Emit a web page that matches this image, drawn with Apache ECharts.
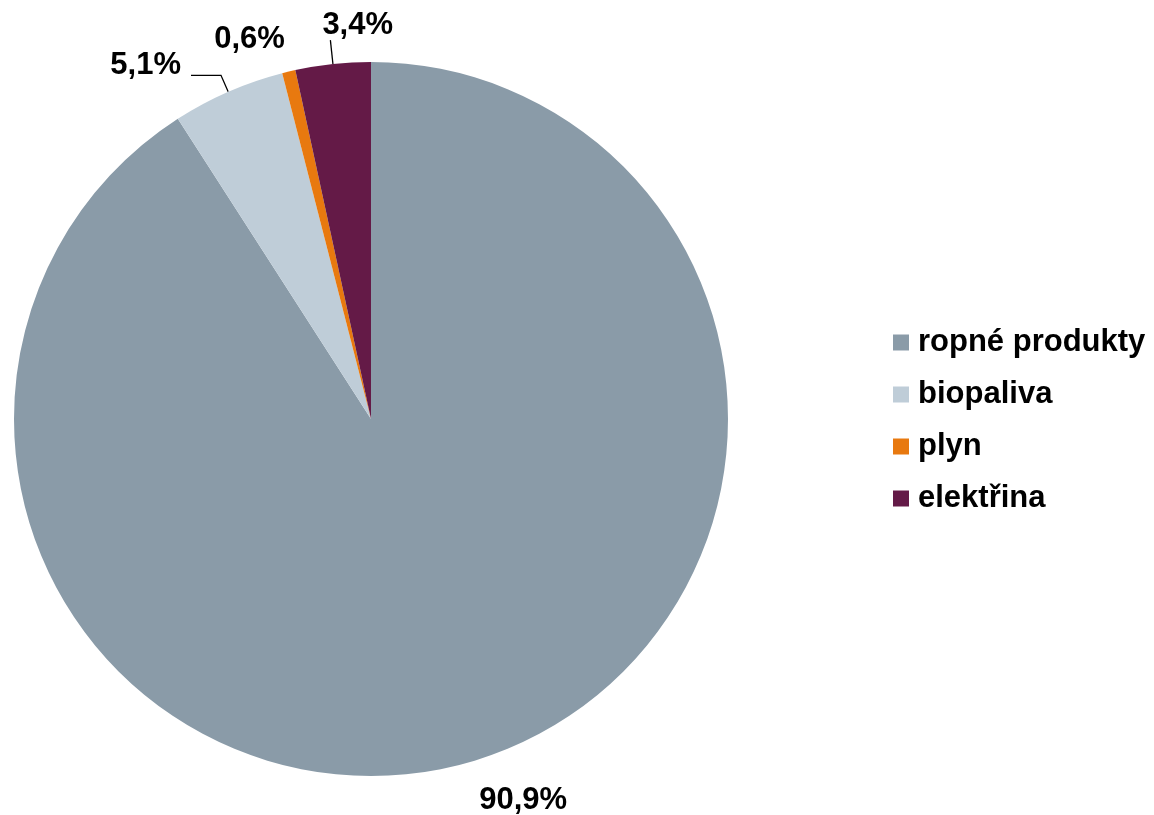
<!DOCTYPE html>
<html>
<head>
<meta charset="utf-8">
<script src="https://cdn.jsdelivr.net/npm/echarts@6/dist/echarts.min.js"></script>
<style>
  html, body { margin: 0; padding: 0; background: #fff; }
  #chart { width: 1154px; height: 815px; }
</style>
</head>
<body>
<div id="chart"></div>
<script>
// podíly paliv (%)
const categories = ['ropné produkty', 'biopaliva', 'plyn', 'elektřina'];
const values = [90.9, 5.1, 0.6, 3.4];
const colors = ['#8A9BA8', '#BFCDD8', '#E8790F', '#641A47'];

// popisky: delka vodicich car a posun textu
const lineLen = [41, 18, 30, 24];
const lineLen2 = [0, 30, 0, 0];
const showLine = [false, true, false, true];
const labelShift = [[-9, 0, null], [-5, -10, null], [8, -3, null], [-3, -15, 'left']];

const font = '"Liberation Sans", Arial, sans-serif';

const chart = echarts.init(document.getElementById('chart'));
chart.setOption({
  animation: false,
  color: colors,
  legend: {
    orient: 'vertical',
    left: 888,
    top: 322,
    itemWidth: 16,
    itemHeight: 16,
    itemGap: 21,
    icon: 'rect',
    textStyle: {
      fontFamily: font,
      fontWeight: 'bold',
      fontSize: 31,
      lineHeight: 31,
      color: '#000',
      padding: [0, 0, 0, 4]
    },
    data: categories
  },
  series: [{
    type: 'pie',
    center: [371, 419],
    radius: 357,
    startAngle: 90,
    clockwise: true,
    avoidLabelOverlap: false,
    itemStyle: { borderWidth: 0 },
    label: {
      show: true,
      position: 'outside',
      fontFamily: font,
      fontWeight: 'bold',
      fontSize: 31,
      color: '#000',
      formatter: (p) => p.value.toFixed(1).replace('.', ',') + '%'
    },
    labelLine: {
      lineStyle: { color: '#000', width: 1.3 }
    },
    labelLayout: function (p) {
      const s = labelShift[p.dataIndex];
      const o = { dx: s[0], dy: s[1], labelLinePoints: p.labelLinePoints };
      if (s[2]) o.align = s[2];
      return o;
    },
    emphasis: { disabled: true },
    data: categories.map((name, i) => ({
      name: name,
      value: values[i],
      labelLine: { show: showLine[i], length: lineLen[i], length2: lineLen2[i] }
    }))
  }]
});
</script>
</body>
</html>
